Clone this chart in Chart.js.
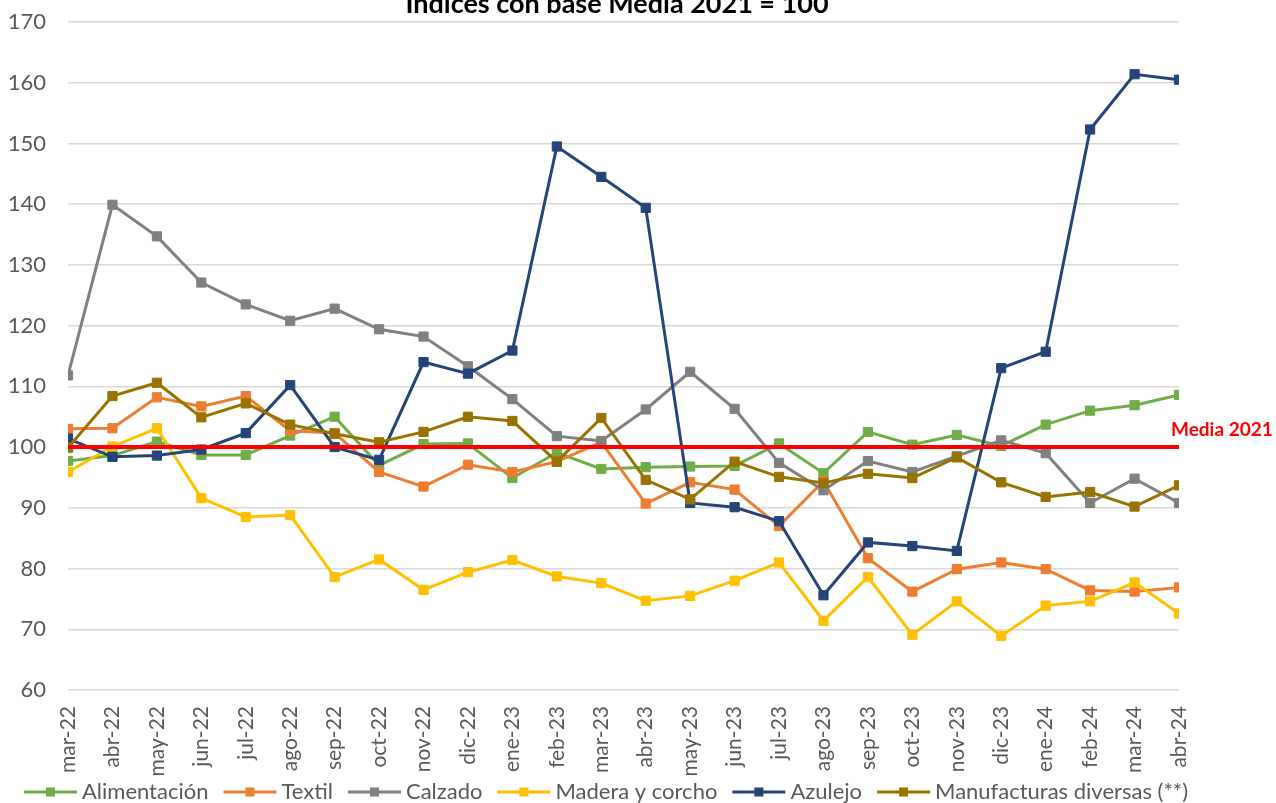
<!DOCTYPE html>
<html>
<head>
<meta charset="utf-8">
<script src="https://cdn.jsdelivr.net/npm/chart.js@4.4.1/dist/chart.umd.min.js"></script>
<style>
  body { margin: 0; background: #ffffff; }
</style>
</head>
<body>
<canvas id="mycanvas" width="1276" height="803"></canvas>
<script>
// meses y series (indices base Media 2021 = 100)
var meses = ['mar-22','abr-22','may-22','jun-22','jul-22','ago-22','sep-22','oct-22','nov-22','dic-22',
  'ene-23','feb-23','mar-23','abr-23','may-23','jun-23','jul-23','ago-23','sep-23','oct-23','nov-23','dic-23',
  'ene-24','feb-24','mar-24','abr-24'];

var alimentacion = [97.7, 98.6, 100.9, 98.7, 98.7, 101.9, 105.0, 97.0, 100.5, 100.6,
  94.9, 99.1, 96.4, 96.7, 96.8, 96.9, 100.6, 95.7, 102.5, 100.4, 102.0, 100.2,
  103.7, 106.0, 106.9, 108.6];
var textil = [103.0, 103.1, 108.2, 106.7, 108.4, 102.7, 102.3, 95.9, 93.5, 97.1,
  95.9, 97.6, 100.8, 90.7, 94.2, 93.0, 87.0, 94.4, 81.7, 76.2, 79.9, 81.0,
  79.9, 76.4, 76.2, 76.9];
var calzado = [111.8, 139.9, 134.7, 127.1, 123.5, 120.8, 122.8, 119.4, 118.2, 113.3,
  107.9, 101.8, 101.0, 106.2, 112.4, 106.3, 97.4, 92.9, 97.7, 95.9, 98.5, 101.1,
  99.0, 90.8, 94.8, 90.8];
var madera = [95.9, 100.1, 103.1, 91.6, 88.5, 88.8, 78.6, 81.5, 76.5, 79.4,
  81.4, 78.7, 77.6, 74.7, 75.5, 78.0, 81.0, 71.4, 78.6, 69.1, 74.6, 68.9,
  73.9, 74.6, 77.7, 72.6];
var azulejo = [101.4, 98.4, 98.6, 99.6, 102.3, 110.2, 100.0, 97.9, 114.0, 112.1,
  115.9, 149.5, 144.5, 139.4, 90.8, 90.1, 87.8, 75.6, 84.3, 83.7, 82.9, 113.0,
  115.7, 152.3, 161.4, 160.5];
var manufacturas = [99.9, 108.4, 110.6, 104.9, 107.2, 103.7, 102.2, 100.8, 102.5, 105.0,
  104.3, 97.6, 104.8, 94.6, 91.4, 97.6, 95.1, 94.1, 95.6, 94.9, 98.3, 94.2,
  91.8, 92.6, 90.2, 93.7];

var media2021 = 100;
var yMin = 60, yMax = 170, yPaso = 10;

var titulo = 'Índices con base Media 2021 = 100';
var fuente = 'Lato, "Noto Sans", sans-serif';

function puntos(serie) {
  return serie.map(function(v, i) { return {x: i, y: v}; });
}

function serie(nombre, datos, color, orden) {
  return {
    label: nombre,
    data: puntos(datos),
    borderColor: color,
    backgroundColor: color,
    borderWidth: 3,
    pointStyle: 'rect',
    pointRadius: 6.5,
    pointBorderWidth: 1,
    pointBorderColor: color,
    pointBackgroundColor: color,
    tension: 0,
    order: orden
  };
}

var datasets = [
  serie('Alimentación', alimentacion, '#70ad47', 6),
  serie('Textil', textil, '#ed7d31', 5),
  serie('Calzado', calzado, '#808080', 4),
  serie('Madera y corcho', madera, '#ffc000', 3),
  serie('Azulejo', azulejo, '#264478', 2),
  serie('Manufacturas diversas (**)', manufacturas, '#997300', 1),
  {
    label: 'Media 2021',
    data: puntos(meses.map(function() { return media2021; })),
    borderColor: '#ff0000',
    borderWidth: 4,
    pointRadius: 0,
    order: 0,
    enLeyenda: false
  }
];

// titulo cortado arriba y etiqueta de la media
var textos = {
  id: 'textos',
  afterDraw: function(chart) {
    var ctx = chart.ctx;
    ctx.save();
    ctx.fillStyle = '#000000';
    ctx.font = 'bold 27px ' + fuente;
    ctx.textAlign = 'center';
    ctx.textBaseline = 'alphabetic';
    ctx.fillText(titulo, 617, 13);

    var y = chart.scales.y.getPixelForValue(media2021);
    ctx.fillStyle = '#ff0000';
    ctx.font = 'bold 19px ' + fuente;
    ctx.textAlign = 'left';
    ctx.textBaseline = 'middle';
    ctx.fillText('Media 2021', 1171, y - 17);
    ctx.restore();
  }
};

// leyenda con linea y cuadrado
var leyenda = {
  id: 'leyenda',
  afterDraw: function(chart) {
    var ctx = chart.ctx;
    var items = chart.data.datasets.filter(function(d) { return d.enLeyenda !== false; });
    ctx.save();
    ctx.font = '22px ' + fuente;
    var largo = 53, hueco = 5, sep = 15;
    var total = 0;
    items.forEach(function(d, i) {
      total += largo + hueco + ctx.measureText(d.label).width + (i > 0 ? sep : 0);
    });
    var x = 606 - total / 2;
    var y = 792;
    items.forEach(function(d) {
      ctx.strokeStyle = d.borderColor;
      ctx.lineWidth = 3;
      ctx.beginPath();
      ctx.moveTo(x, y);
      ctx.lineTo(x + largo, y);
      ctx.stroke();
      ctx.fillStyle = d.borderColor;
      ctx.fillRect(x + largo / 2 - 4.5, y - 4.5, 9, 9);
      x += largo + hueco;
      ctx.fillStyle = '#595959';
      ctx.textAlign = 'left';
      ctx.textBaseline = 'middle';
      ctx.fillText(d.label, x, y);
      x += ctx.measureText(d.label).width + sep;
    });
    ctx.restore();
  }
};

var ctx = document.getElementById('mycanvas');

var myLineChart = new Chart(ctx, {
  type: 'line',
  data: { datasets: datasets },
  options: {
    responsive: false,
    animation: false,
    layout: { padding: { top: 22, right: 97, bottom: 0, left: 0 } },
    plugins: {
      legend: { display: false },
      tooltip: { enabled: false }
    },
    scales: {
      x: {
        type: 'linear',
        min: 0,
        max: 25,
        afterBuildTicks: function(scale) {
          scale.ticks = meses.map(function(m, i) { return {value: i}; });
        },
        afterFit: function(scale) {
          scale.height = 113;
          scale.paddingLeft = 0;
          scale.paddingRight = 0;
        },
        grid: { display: false },
        border: { display: false },
        ticks: {
          autoSkip: false,
          minRotation: 90,
          maxRotation: 90,
          padding: 8,
          color: '#595959',
          font: { family: fuente, size: 21 },
          callback: function(v) { return meses[v]; }
        }
      },
      y: {
        min: yMin,
        max: yMax,
        afterFit: function(scale) {
          scale.width = 68;
          scale.paddingTop = 0;
          scale.paddingBottom = 0;
        },
        grid: { color: '#d9d9d9', lineWidth: 1.5, drawTicks: false },
        border: { display: false },
        ticks: {
          stepSize: yPaso,
          padding: 22,
          color: '#595959',
          font: { family: fuente, size: 22 }
        }
      }
    }
  },
  plugins: [textos, leyenda]
});
</script>
</body>
</html>
